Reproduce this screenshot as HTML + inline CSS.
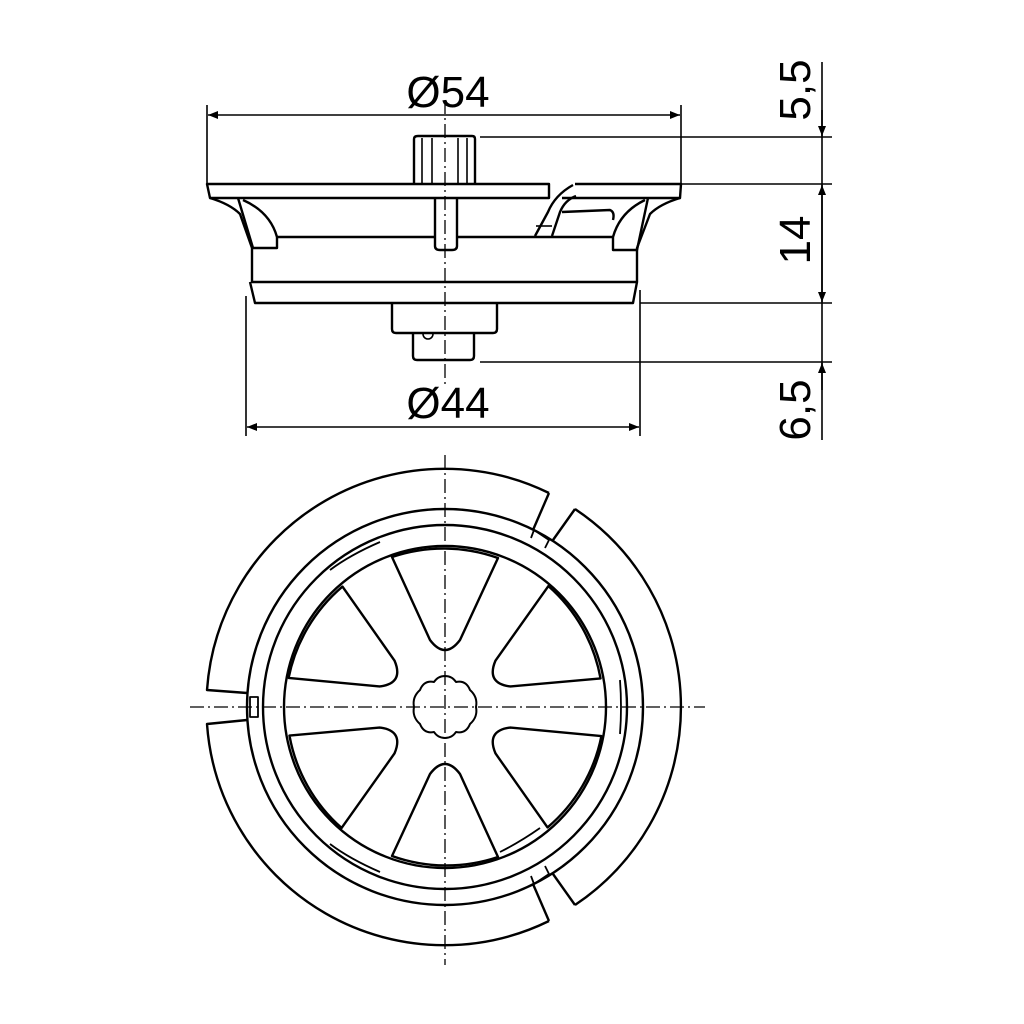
<!DOCTYPE html>
<html><head><meta charset="utf-8"><style>html,body{margin:0;padding:0;background:#fff}svg{display:block}</style></head>
<body>
<svg width="1024" height="1024" viewBox="0 0 1024 1024" xmlns="http://www.w3.org/2000/svg">
<defs>
<marker id="ar" viewBox="0 0 10 10" refX="10" refY="5" markerWidth="14" markerHeight="10" markerUnits="userSpaceOnUse" orient="auto-start-reverse"><path d="M0,1 L10,5 L0,9 Z" fill="#000"/></marker>
</defs>
<g fill="none" stroke="#000" stroke-width="1.6">
<line x1="207" y1="105" x2="207" y2="184"/>
<line x1="681" y1="105" x2="681" y2="184"/>
<line x1="208" y1="115" x2="680" y2="115" marker-start="url(#ar)" marker-end="url(#ar)"/>
<line x1="246" y1="296" x2="246" y2="436"/>
<line x1="640" y1="290" x2="640" y2="436"/>
<line x1="247" y1="427" x2="639" y2="427" marker-start="url(#ar)" marker-end="url(#ar)"/>
<line x1="822" y1="62" x2="822" y2="440"/>
<line x1="480" y1="137" x2="832" y2="137"/>
<line x1="680" y1="184" x2="832" y2="184"/>
<line x1="640" y1="303" x2="832" y2="303"/>
<line x1="480" y1="362" x2="832" y2="362"/>
<line x1="822" y1="110" x2="822" y2="136" marker-end="url(#ar)"/>
<line x1="822" y1="185" x2="822" y2="302" marker-start="url(#ar)" marker-end="url(#ar)"/>
<line x1="822" y1="390" x2="822" y2="363" marker-end="url(#ar)"/>
</g>
<g font-family="Liberation Sans, sans-serif" font-size="44" fill="#000">
<text x="448" y="107" text-anchor="middle">Ø54</text>
<text x="448" y="418" text-anchor="middle">Ø44</text>
<text transform="translate(810,90) rotate(-90)" text-anchor="middle">5,5</text>
<text transform="translate(810,240) rotate(-90)" text-anchor="middle">14</text>
<text transform="translate(810,410) rotate(-90)" text-anchor="middle">6,5</text>
</g>
<g fill="none" stroke="#000" stroke-width="2.4" stroke-linejoin="round">
<path d="M414,184 L414,139 Q414,136 418,136 L472,136 Q475,136 475,139 L475,184"/>
<line x1="422" y1="138" x2="422" y2="184" stroke-width="1.6"/>
<line x1="432" y1="138" x2="432" y2="184" stroke-width="1.6"/>
<line x1="458" y1="138" x2="458" y2="184" stroke-width="1.6"/>
<line x1="467" y1="138" x2="467" y2="184" stroke-width="1.6"/>
<path d="M207,184 L549,184 L549,198 L210,198 Z"/>
<path d="M575,184 L681,184 L680,198 L562,198"/>
<path d="M210,198 Q230,204 240,214 L252,248 L252,282 L637,282 L637,248 L650,214 Q660,204 680,198"/>
<path d="M238,198 L253,248 L277,248 L277,237 Q270,212 243,200"/>
<path d="M648,198 L637,250 L613,250 L613,237 Q620,212 645,200"/>
<path d="M435,198 L435,246 Q435,250 440,250 L452,250 Q457,250 457,246 L457,198"/>
<line x1="277" y1="237" x2="435" y2="237"/>
<line x1="457" y1="237" x2="613" y2="237"/>
<path d="M573,185 Q555,195 548,212 L535,236"/>
<path d="M576,196 Q565,200 560,212 L552,236"/>
<path d="M562,212 L610,210 Q615,212 613,220"/>
<line x1="536" y1="226" x2="552" y2="226" stroke-width="1.6"/>
<path d="M250,282 L255,303 L633,303 L637,282"/>
<path d="M392,303 L392,329 Q392,333 396,333 L493,333 Q497,333 497,329 L497,303"/>
<path d="M413,333 L413,356 Q413,360 417,360 L470,360 Q474,360 474,356 L474,333"/>
<path d="M423,334 A5,5 0 0 0 433,334" stroke-width="1.6"/>
</g>
<line x1="445" y1="100" x2="445" y2="385" stroke="#000" stroke-width="1.3" stroke-dasharray="14,4,2,4"/>
<g fill="none" stroke="#000" stroke-width="2.4" stroke-linejoin="round">
<path d="M549,493 A238,238 0 0 0 207,690 L247,693"/>
<path d="M247,720 L207,724 A238,238 0 0 0 549,921"/>
<line x1="549" y1="493" x2="533" y2="530"/>
<line x1="549" y1="921" x2="533" y2="884"/>
<path d="M575,509 A238,238 0 0 1 575,905"/>
<line x1="575" y1="509" x2="553" y2="540"/>
<line x1="575" y1="905" x2="553" y2="874"/>
<path d="M531,538 L534,530 L549,540 L545,548" stroke-width="1.8"/>
<path d="M531,876 L534,884 L549,874 L545,866" stroke-width="1.8"/>
<rect x="250" y="697" width="8" height="20" stroke-width="1.8"/>
<circle cx="445" cy="707" r="198"/>
<circle cx="445" cy="707" r="182"/>
<circle cx="445" cy="707" r="161"/>
<path d="M392,557 L430,640 Q445,660 460,640 L498,558 A161,161 0 0 0 392,557 Z"/>
<path transform="rotate(60 445 707)" d="M392,557 L430,640 Q445,660 460,640 L498,558 A161,161 0 0 0 392,557 Z"/>
<path transform="rotate(120 445 707)" d="M392,557 L430,640 Q445,660 460,640 L498,558 A161,161 0 0 0 392,557 Z"/>
<path transform="rotate(180 445 707)" d="M392,557 L430,640 Q445,660 460,640 L498,558 A161,161 0 0 0 392,557 Z"/>
<path transform="rotate(240 445 707)" d="M392,557 L430,640 Q445,660 460,640 L498,558 A161,161 0 0 0 392,557 Z"/>
<path transform="rotate(300 445 707)" d="M392,557 L430,640 Q445,660 460,640 L498,558 A161,161 0 0 0 392,557 Z"/>
<path d="M445,676 Q452,676 456,682 Q466,680 470,690 Q478,697 476,707 Q478,717 470,724 Q466,734 456,732 Q452,738 445,738 Q438,738 434,732 Q424,734 420,724 Q412,717 414,707 Q412,697 420,690 Q424,680 434,682 Q438,676 445,676 Z" stroke-width="2"/>
<path d="M330,570 Q350,555 380,542" stroke-width="1.8"/>
<path d="M330,844 Q350,859 380,872" stroke-width="1.8"/>
<path d="M620,680 Q622,707 620,734" stroke-width="1.8"/>
<path d="M500,852 Q520,842 540,828" stroke-width="1.8"/>
</g>
<line x1="445" y1="455" x2="445" y2="965" stroke="#000" stroke-width="1.3" stroke-dasharray="14,4,2,4"/>
<line x1="190" y1="707" x2="705" y2="707" stroke="#000" stroke-width="1.3" stroke-dasharray="14,4,2,4"/>
</svg>
</body></html>
